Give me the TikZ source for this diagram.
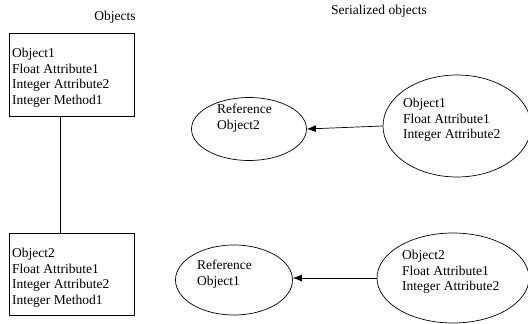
\documentclass[tikz,border=0pt]{standalone}
\usepackage{fontspec}
\setmainfont{Liberation Serif}
\usetikzlibrary{shapes.geometric,arrows.meta}
\begin{document}
\begin{tikzpicture}[x=1pt,y=-1pt,
  txt/.style={font=\fontsize{13.5}{15.5}\selectfont, align=left, inner sep=0pt, anchor=north west},
  title/.style={font=\fontsize{13.5}{15.5}\selectfont, inner sep=0pt},
  objbox/.style={draw, line width=0.7pt, rectangle, inner sep=0pt, anchor=north west},
  oval/.style={draw, line width=0.7pt, ellipse, inner sep=0pt},
  link/.style={line width=0.7pt},
  ref/.style={line width=0.7pt, -{Latex[length=9pt,width=7pt]}}
]
\useasboundingbox (0,0) rectangle (528,324);
% titles
\node[title] (t1) at (115,17) {Objects};
\node[title] (t2) at (379,11) {Serialized objects};
% boxes
\node[objbox, minimum width=125pt, minimum height=83pt] (b1) at (9,33) {};
\node[objbox, minimum width=125pt, minimum height=82pt] (b2) at (9,233) {};
\node[txt] (b1t) at (12,48) {Object1\\Float Attribute1\\Integer Attribute2\\Integer Method1};
\node[txt] (b2t) at (12,248) {Object2\\Float Attribute1\\Integer Attribute2\\Integer Method1};
\draw[link] (b1.south -| 60,0) -- (b2.north -| 60,0);
% ellipses
\node[oval, minimum width=115pt, minimum height=63pt] (l1) at (249,129) {};
\node[oval, minimum width=117pt, minimum height=70pt] (l2) at (234,280) {};
\node[oval, minimum width=148pt, minimum height=102pt] (r1) at (457,126) {};
\node[oval, minimum width=152pt, minimum height=90pt] (r2) at (453,278) {};
\node[txt] (l1t) at (217,104) {Reference\\Object2};
\node[txt] (l2t) at (197,260) {Reference\\Object1};
\node[txt] (r1t) at (403,98) {Object1\\Float Attribute1\\Integer Attribute2};
\node[txt] (r2t) at (402,250) {Object2\\Float Attribute1\\Integer Attribute2};
% arrows
\draw[ref] (r1.west) -- (l1.east);
\draw[ref] (r2.west) -- (l2.east |- r2.west);
\end{tikzpicture}
\end{document}
